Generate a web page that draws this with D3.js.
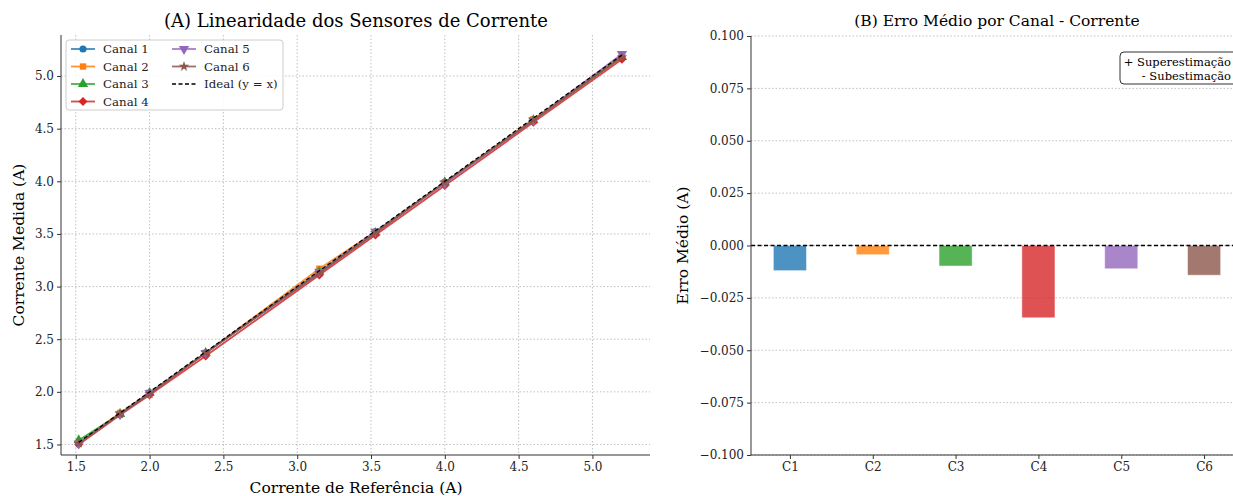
<!DOCTYPE html>
<html lang="en">
<head>
  <meta charset="UTF-8">
  <script src="https://d3js.org/d3.v7.min.js"></script>
  <style>
    body {
      background-color: #fff;
      margin: 0;
      overflow: hidden;
    }
    svg {
      font-family: 'DejaVu Serif', serif;
    }
    .grid line {
      stroke: #b0b0b0;
      stroke-dasharray: 1.5 2;
      stroke-width: 0.8;
    }
    .axis path, .axis line {
      stroke: #333;
    }
    .axis text {
      font-family: 'DejaVu Serif', serif;
      font-size: 12px;
      fill: #222;
    }
  </style>
</head>
<body>

<svg width="1233" height="496"></svg>

<script>
  // reference currents (x axis of panel A)
  const refCurrent = [1.52, 1.80, 2.00, 2.38, 3.15, 3.53, 4.00, 4.60, 5.20];

  // measured currents per channel
  const canal1 = [1.51, 1.79, 1.99, 2.37, 3.13, 3.52, 3.99, 4.58, 5.19];
  const canal2 = [1.52, 1.80, 1.99, 2.37, 3.17, 3.52, 3.99, 4.59, 5.19];
  const canal3 = [1.54, 1.79, 1.99, 2.37, 3.14, 3.51, 3.99, 4.58, 5.18];
  const canal4 = [1.50, 1.78, 1.97, 2.34, 3.11, 3.49, 3.96, 4.56, 5.16];
  const canal5 = [1.51, 1.79, 1.99, 2.37, 3.14, 3.52, 3.98, 4.58, 5.21];
  const canal6 = [1.51, 1.79, 1.98, 2.37, 3.13, 3.51, 3.99, 4.58, 5.18];

  const seriesNames = ['Canal 1', 'Canal 2', 'Canal 3', 'Canal 4', 'Canal 5', 'Canal 6'];
  const colors = ['#1f77b4', '#ff7f0e', '#2ca02c', '#d62728', '#9467bd', '#8c564b'];
  const markers = ['o', 's', '^', 'D', 'v', '*'];

  // panel B: mean error per channel
  const barLabels = ['C1', 'C2', 'C3', 'C4', 'C5', 'C6'];
  const meanError = [-0.0120, -0.0044, -0.0098, -0.0345, -0.0111, -0.0142];

  const linTicks = [1.5, 2.0, 2.5, 3.0, 3.5, 4.0, 4.5, 5.0];
  const errTicks = [-0.100, -0.075, -0.050, -0.025, 0.000, 0.025, 0.050, 0.075, 0.100];

  const svg = d3.select('svg');

  // matplotlib-like marker shapes
  const markerDefs = {
    'o': { type: d3.symbolCircle, size: 40, rot: 0 },
    's': { type: d3.symbolSquare, size: 40, rot: 0 },
    '^': { type: d3.symbolTriangle, size: 46, rot: 0 },
    'D': { type: d3.symbolSquare, size: 40, rot: 45 },
    'v': { type: d3.symbolTriangle, size: 46, rot: 180 },
    '*': { type: d3.symbolStar, size: 34, rot: 0 }
  };

  function drawMarker(g, m, x, y, color) {
    const def = markerDefs[m];
    return g.append('path')
      .attr('d', d3.symbol().type(def.type).size(def.size)())
      .attr('fill', color)
      .attr('transform', `translate(${x},${y}) rotate(${def.rot})`);
  }

  // ---------- panel A ----------
  const A = { left: 61, right: 650, top: 35, bottom: 455 };
  const xA = d3.scaleLinear().domain([1.4, 5.39]).range([A.left, A.right]);
  const yA = d3.scaleLinear().domain([1.4, 5.39]).range([A.bottom, A.top]);

  const gA = svg.append('g');

  // grid
  gA.append('g').attr('class', 'grid')
    .selectAll('line.v').data(linTicks).enter().append('line')
    .attr('x1', d => xA(d)).attr('x2', d => xA(d))
    .attr('y1', A.top).attr('y2', A.bottom);
  gA.append('g').attr('class', 'grid')
    .selectAll('line.h').data(linTicks).enter().append('line')
    .attr('x1', A.left).attr('x2', A.right)
    .attr('y1', d => yA(d)).attr('y2', d => yA(d));

  const allSeries = [canal1, canal2, canal3, canal4, canal5, canal6];
  const line = d3.line().x(d => xA(d[0])).y(d => yA(d[1]));

  allSeries.forEach((vals, i) => {
    const pts = refCurrent.map((r, j) => [r, vals[j]]);
    gA.append('path')
      .datum(pts)
      .attr('d', line)
      .attr('fill', 'none')
      .attr('stroke', colors[i])
      .attr('stroke-width', 1.8)
      .attr('stroke-opacity', 0.85);
    pts.forEach(p => {
      drawMarker(gA, markers[i], xA(p[0]), yA(p[1]), colors[i]);
    });
  });

  // ideal y = x
  const ext = d3.extent(refCurrent);
  gA.append('path')
    .datum([[ext[0], ext[0]], [ext[1], ext[1]]])
    .attr('d', line)
    .attr('fill', 'none')
    .attr('stroke', '#000')
    .attr('stroke-width', 1.3)
    .attr('stroke-dasharray', '4 2.5');

  // axes
  gA.append('g').attr('class', 'axis')
    .attr('transform', `translate(0,${A.bottom})`)
    .call(d3.axisBottom(xA).tickValues(linTicks).tickFormat(d3.format('.1f')).tickSizeOuter(0).tickSize(4))
    .call(g => g.select('.domain').attr('d', `M${A.left},0H${A.right}`));
  gA.append('g').attr('class', 'axis')
    .attr('transform', `translate(${A.left},0)`)
    .call(d3.axisLeft(yA).tickValues(linTicks).tickFormat(d3.format('.1f')).tickSizeOuter(0).tickSize(4))
    .call(g => g.select('.domain').attr('d', `M0,${A.top}V${A.bottom}`));

  gA.append('text')
    .attr('x', 356).attr('y', 27)
    .attr('text-anchor', 'middle').attr('font-size', 18)
    .text('(A) Linearidade dos Sensores de Corrente');
  gA.append('text')
    .attr('x', 356).attr('y', 493)
    .attr('text-anchor', 'middle').attr('font-size', 15.5)
    .text('Corrente de Referência (A)');
  gA.append('text')
    .attr('transform', `translate(24,${(A.top + A.bottom) / 2}) rotate(-90)`)
    .attr('text-anchor', 'middle').attr('font-size', 15.5)
    .text('Corrente Medida (A)');

  // legend
  const leg = gA.append('g');
  leg.append('rect')
    .attr('x', 66).attr('y', 40).attr('width', 217).attr('height', 70)
    .attr('rx', 3).attr('fill', '#fff').attr('fill-opacity', 0.85)
    .attr('stroke', '#ccc');
  const legItems = seriesNames.map((n, i) => ({ name: n, color: colors[i], marker: markers[i] }));
  legItems.push({ name: 'Ideal (y = x)', color: '#000', marker: null });
  legItems.forEach((it, i) => {
    const col = i < 4 ? 0 : 1;
    const row = i < 4 ? i : i - 4;
    const x0 = col === 0 ? 71 : 172;
    const y0 = 49 + row * 17.5;
    leg.append('line')
      .attr('x1', x0).attr('x2', x0 + 24).attr('y1', y0).attr('y2', y0)
      .attr('stroke', it.color).attr('stroke-width', it.marker ? 1.8 : 1.3)
      .attr('stroke-opacity', it.marker ? 0.85 : 1)
      .attr('stroke-dasharray', it.marker ? null : '4 2.5');
    if (it.marker) drawMarker(leg, it.marker, x0 + 12, y0, it.color);
    leg.append('text')
      .attr('x', x0 + 32).attr('y', y0 + 4)
      .attr('font-size', 11.8).attr('fill', '#222')
      .text(it.name);
  });

  // ---------- panel B ----------
  const B = { left: 751, right: 1243, top: 36, bottom: 455 };
  const xB = d3.scaleLinear().domain([-0.47, 5.47]).range([B.left, B.right]);
  const yB = d3.scaleLinear().domain([-0.1, 0.1]).range([B.bottom, B.top]);
  const barW = 0.4;

  const gB = svg.append('g');

  gB.append('g').attr('class', 'grid')
    .selectAll('line').data(errTicks).enter().append('line')
    .attr('x1', B.left).attr('x2', B.right)
    .attr('y1', d => yB(d)).attr('y2', d => yB(d));

  gB.selectAll('rect.bar').data(meanError).enter().append('rect')
    .attr('class', 'bar')
    .attr('x', (d, i) => xB(i - barW / 2))
    .attr('width', xB(barW) - xB(0))
    .attr('y', d => yB(Math.max(0, d)))
    .attr('height', d => Math.abs(yB(d) - yB(0)))
    .attr('fill', (d, i) => colors[i])
    .attr('fill-opacity', 0.8)
    .attr('stroke', '#fff')
    .attr('stroke-opacity', 0.5);

  gB.append('line')
    .attr('x1', B.left).attr('x2', B.right)
    .attr('y1', yB(0)).attr('y2', yB(0))
    .attr('stroke', '#000').attr('stroke-width', 1.3)
    .attr('stroke-dasharray', '4 2.5');

  gB.append('g').attr('class', 'axis')
    .attr('transform', `translate(0,${B.bottom})`)
    .call(d3.axisBottom(xB).tickValues(d3.range(barLabels.length)).tickFormat(i => barLabels[i]).tickSizeOuter(0).tickSize(4))
    .call(g => g.select('.domain').attr('d', `M${B.left},0H${B.right}`));
  gB.append('g').attr('class', 'axis')
    .attr('transform', `translate(${B.left},0)`)
    .call(d3.axisLeft(yB).tickValues(errTicks).tickFormat(d => d3.format('.3f')(d).replace('-', '\u2212')).tickSizeOuter(0).tickSize(4))
    .call(g => g.select('.domain').attr('d', `M0,${B.top}V${B.bottom}`));

  gB.append('text')
    .attr('x', 997).attr('y', 26)
    .attr('text-anchor', 'middle').attr('font-size', 15.5)
    .text('(B) Erro Médio por Canal - Corrente');
  gB.append('text')
    .attr('transform', `translate(688,${(B.top + B.bottom) / 2}) rotate(-90)`)
    .attr('text-anchor', 'middle').attr('font-size', 15.5)
    .text('Erro Médio (A)');

  // annotation box (its frame runs past the right edge, as in the original)
  const ann = gB.append('g');
  ann.append('rect')
    .attr('x', 1120).attr('y', 52).attr('width', 125).attr('height', 32)
    .attr('rx', 4).attr('fill', '#fff').attr('stroke', '#333');
  ann.append('text')
    .attr('x', 1231).attr('y', 66).attr('text-anchor', 'end')
    .attr('font-size', 11.5).text('+ Superestimação');
  ann.append('text')
    .attr('x', 1231).attr('y', 80).attr('text-anchor', 'end')
    .attr('font-size', 11.5).text('- Subestimação');
</script>

</body>
</html>
